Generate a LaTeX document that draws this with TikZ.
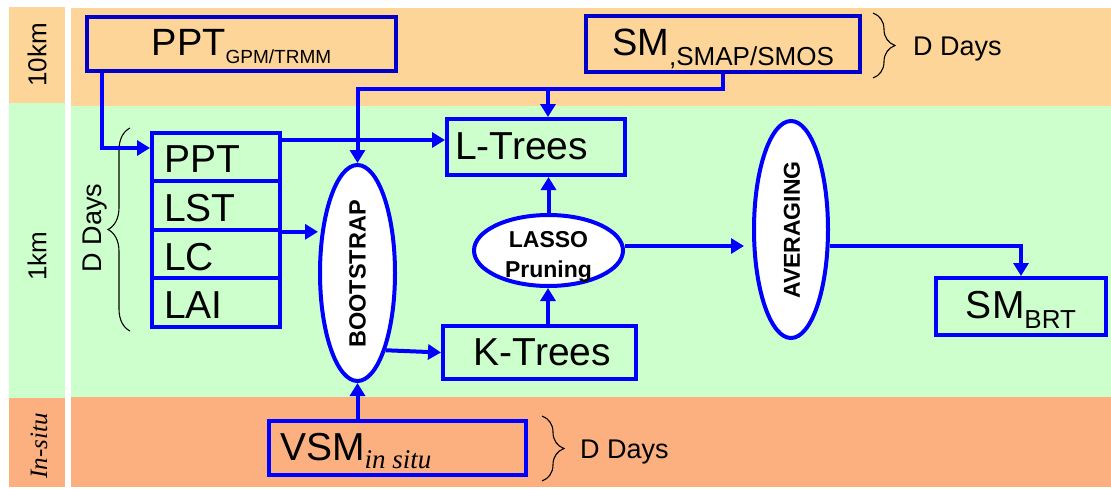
\documentclass[tikz,border=0pt]{standalone}
\usepackage{fontspec}
\usepackage{graphicx}
\setmainfont{Liberation Sans}
\newfontfamily\seriffam{Liberation Serif}
\usetikzlibrary{arrows.meta,shapes.geometric,decorations.pathreplacing}

\newcommand\fs[1]{\fontsize{#1}{#1}\selectfont}

\definecolor{bandtop}{RGB}{253,213,153}
\definecolor{bandmid}{RGB}{204,255,204}
\definecolor{bandlow}{RGB}{252,176,128}
\definecolor{flow}{RGB}{0,0,255}
\definecolor{srcedge}{RGB}{0,0,200}

\tikzset{
  flowbox/.style={draw=flow, line width=4pt, inner sep=0pt},
  srcbox/.style={draw=srcedge, line width=4pt, inner sep=0pt},
  flowell/.style={ellipse, draw=flow, fill=white, line width=4pt, inner sep=0pt},
  flowline/.style={draw=flow, line width=4pt, -{Triangle[length=13pt,width=15pt]}},
  bracket/.style={draw=black, line width=1.1pt, decorate,
    decoration={brace, amplitude=22pt}},
  boxtext/.style={inner sep=0pt, font=\fs{39}},
  ovaltext/.style={inner sep=0pt, font=\bfseries\fs{23.5}},
  daystext/.style={inner sep=0pt, font=\fs{27}},
  bandtext/.style={inner sep=0pt, rotate=90, font=\fs{26}}
}

\begin{document}
\begin{tikzpicture}[x=1pt,y=-1pt]
\useasboundingbox (0,0) rectangle (1111,488);
\fill[white] (0,0) rectangle (1111,488);

% scale bands: label column and main area
\fill[bandtop] (9,7) rectangle (65,103);
\fill[bandmid] (9,103) rectangle (65,398);
\fill[bandlow] (9,398) rectangle (65,487);
\fill[bandtop] (71,8) rectangle (1111,106);
\fill[bandmid] (71,106) rectangle (1111,397);
\fill[bandlow] (71,397) rectangle (1111,487);

\node[bandtext] (lab10) at (37,55) {10km};
\node[bandtext] (lab1) at (37,256) {1km};
\node[bandtext, font=\seriffam\itshape\fs{25}] (labis) at (39,446) {In-situ};

% coarse inputs
\node[srcbox, minimum width=309, minimum height=54] (gpm) at (241.5,44) {};
\node[boxtext, anchor=base, font=\fs{38}] (gpmtxt) at (241.5,55)
  {PPT\raisebox{-8pt}{\fs{19}GPM/TRMM}};
\node[srcbox, minimum width=274, minimum height=56] (sm) at (723,44) {};
\node[boxtext, anchor=base, font=\fs{38}] (smtxt) at (723,55)
  {SM\raisebox{-10pt}{\fs{26},SMAP/SMOS}};

% fine-scale predictors
\node[flowbox, minimum width=128, minimum height=48.4] (ppt) at (216,157.2) {};
\node[flowbox, minimum width=128, minimum height=48.4] (lst) at (216,205.6) {};
\node[flowbox, minimum width=128, minimum height=48.4] (lc)  at (216,254) {};
\node[flowbox, minimum width=128, minimum height=48.4] (lai) at (216,302.4) {};
\node[boxtext, anchor=base west] (ppttxt) at (164,172) {PPT};
\node[boxtext, anchor=base west] (lsttxt) at (164,221) {LST};
\node[boxtext, anchor=base west] (lctxt)  at (164,270) {LC};
\node[boxtext, anchor=base west] (laitxt) at (164,318) {LAI};

% processing steps
\node[flowell, minimum width=75, minimum height=216] (boot) at (357.5,273) {};
\node[ovaltext, rotate=90] (boottxt) at (357.5,274) {BOOTSTRAP};

\node[flowbox, minimum width=178, minimum height=56] (ltrees) at (536,147) {};
\node[boxtext, anchor=base west] (ltreestxt) at (455,159) {L-Trees};
\node[flowbox, minimum width=193, minimum height=53] (ktrees) at (539.5,352.5) {};
\node[boxtext, anchor=base] (ktreestxt) at (542.5,365) {K-Trees};

\node[flowell, minimum width=149, minimum height=71] (lasso) at (548.5,250.5) {};
\node[ovaltext, anchor=base, font=\bfseries\fs{23}] (lassotxt) at (548.5,247) {LASSO};
\node[ovaltext, anchor=base, font=\bfseries\fs{23}] (prunetxt) at (548.5,277) {Pruning};

\node[flowell, minimum width=74, minimum height=217] (avg) at (791,229.5) {};
\node[ovaltext, rotate=90, font=\bfseries\fs{23}] (avgtxt) at (792,230) {AVERAGING};

\node[flowbox, minimum width=170, minimum height=57] (smbrt) at (1021,306.5) {};
\node[boxtext, anchor=base] (smbrttxt) at (1021,318)
  {SM\raisebox{-10pt}{\fs{26}BRT}};

% ground observations
\node[flowbox, minimum width=257, minimum height=54] (vsm) at (397.5,448) {};
\node[boxtext, anchor=base west] (vsmtxt) at (280,460)
  {VSM\raisebox{-8pt}{\seriffam\itshape\fs{27}in situ}};

% period brackets
\draw[bracket] (873,13) -- (873,78);
\node[daystext, anchor=base west] (days1) at (913,55) {D Days};
\draw[bracket] (130,331) -- (130,128);
\node[daystext, rotate=90] (days2) at (95,228) {D Days};
\draw[bracket] (542,416) -- (542,481);
\node[daystext, anchor=base west] (days3) at (580,458) {D Days};

% connectors
\coordinate (gpmdrop) at (102,148);
\coordinate (bus) at (723,89);
\coordinate (lx) at (548,0);
\coordinate (ly) at (0,140);
\coordinate (ay) at (0,246);

\draw[flowline] (gpm.south -| gpmdrop) |- (ppt.west |- gpmdrop);
\draw[flowline] (sm.south -| bus) -- (bus) -| (boot.north);
\draw[flowline] (lx |- bus) -- (lx |- ltrees.north);
\draw[flowline] (ppt.east |- ly) -- (ltrees.west |- ly);
\draw[flowline] (lst.south east) -- (lst.south east -| boot.west);
\draw[flowline] (boot.-70) -- (ktrees.west);
\draw[flowline] (vsm.north -| boot.south) -- (boot.south);
\draw[flowline] (lx |- ktrees.north) -- (lx |- lasso.south);
\draw[flowline] (lasso.north) -- (lasso.north |- ltrees.south);
\draw[flowline, shorten >=8pt] (lasso.east |- ay) -- (avg.west |- ay);
\draw[flowline] (avg.east |- ay) -| (smbrt.north);
\end{tikzpicture}
\end{document}
